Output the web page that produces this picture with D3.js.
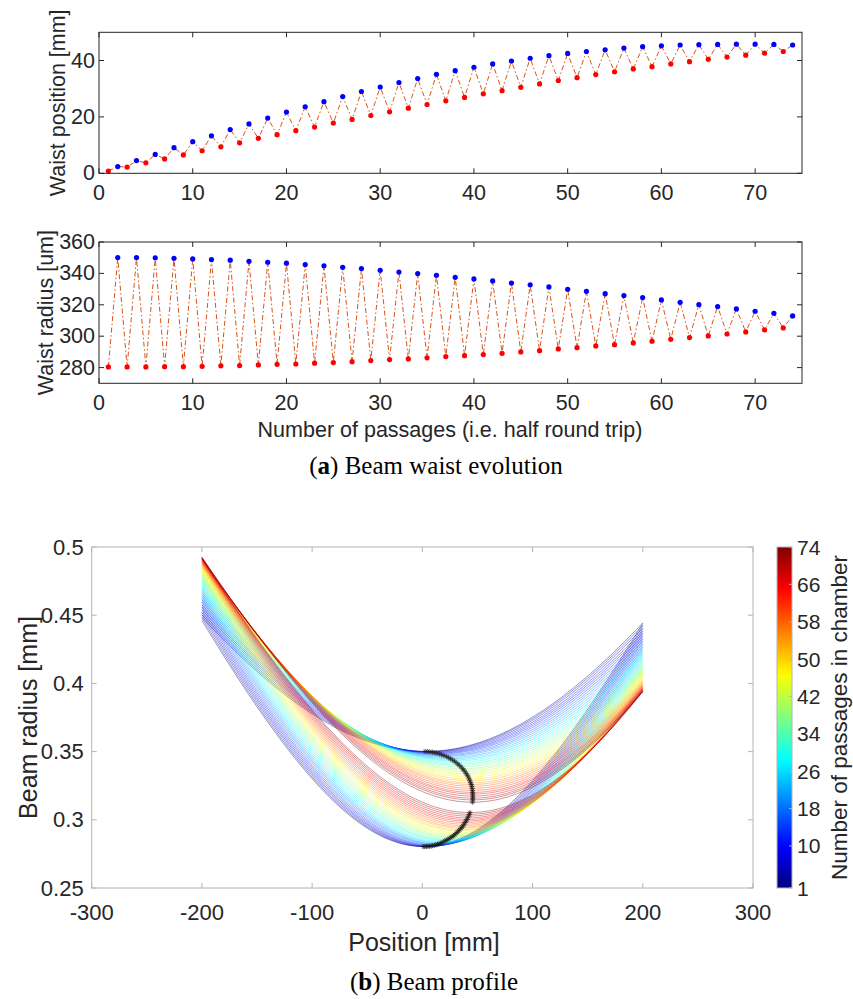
<!DOCTYPE html>
<html>
<head>
<meta charset="utf-8">
<script src="https://cdnjs.cloudflare.com/ajax/libs/d3/7.8.5/d3.min.js"></script>
<style>
  body { margin: 0; background: #fff; }
  svg { display: block; }
  text { font-family: "Liberation Sans", Arial, sans-serif; fill: #262626; }
  .caption { font-family: "Liberation Serif", "DejaVu Serif", serif; fill: #000; }
</style>
</head>
<body>
<svg id="chart" width="853" height="999"></svg>
<script>
// passage index (1..74), odd = red markers, even = blue markers
const passages = d3.range(1, 75);

// waist position [mm] (a) top
const waistPosition = [
  0.8, 2.4, 2.2, 4.5, 3.7, 6.7, 5.1, 9.1, 6.5, 11.2,
  8.0, 13.3, 9.4, 15.5, 10.8, 17.5, 12.4, 19.6, 13.7, 21.7,
  15.1, 23.6, 16.4, 25.4, 17.8, 27.2, 19.1, 29.0, 20.5, 30.6,
  21.8, 32.2, 23.1, 33.6, 24.4, 35.1, 25.7, 36.4, 26.9, 37.6,
  28.2, 38.8, 29.3, 39.8, 30.5, 40.8, 31.7, 41.7, 32.9, 42.5,
  33.9, 43.2, 35.0, 43.8, 36.0, 44.4, 37.0, 44.9, 37.8, 45.2,
  38.8, 45.5, 39.6, 45.6, 40.4, 45.7, 41.2, 45.8, 41.9, 45.8,
  42.6, 45.7, 43.2, 45.5
];

// waist radius [um] (a) bottom
const waistRadius = [
  280.4, 350.1, 280.4, 350.1, 280.4, 349.9, 280.6, 349.6, 280.6, 349.2,
  280.8, 348.8, 281.1, 348.4, 281.3, 347.7, 281.7, 347.1, 282.1, 346.5,
  282.3, 345.6, 282.8, 344.8, 283.2, 343.9, 283.8, 343.1, 284.5, 342.0,
  285.1, 340.9, 285.5, 339.9, 286.2, 338.8, 287.0, 337.5, 287.6, 336.5,
  288.3, 335.2, 289.1, 333.9, 290.0, 332.7, 290.8, 331.4, 291.9, 329.9,
  292.7, 328.6, 293.8, 327.1, 294.6, 325.9, 295.7, 324.6, 296.8, 323.1,
  298.0, 321.6, 299.1, 320.1, 300.2, 318.9, 301.4, 317.4, 302.7, 315.9,
  304.0, 314.6, 305.3, 312.9
];

// beam profile panel: gaussian beam w(z) around each waist
const wavelengthMm = 1.523e-3;          // effective wavelength giving the curve ends
const profileRange = [-200, 200];        // mm, extent of each profile

// tick labels
const passageTicks = [0, 10, 20, 30, 40, 50, 60, 70];
const positionTicks = [0, 20, 40];
const radiusTicks = [280, 300, 320, 340, 360];
const profileXTicks = [-300, -200, -100, 0, 100, 200, 300];
const profileYTicks = [0.25, 0.3, 0.35, 0.4, 0.45, 0.5];
const colorbarTicks = [1, 10, 18, 26, 34, 42, 50, 58, 66, 74];

const svg = d3.select('#chart');

function jet(t) {
  const c = v => Math.max(0, Math.min(1, v));
  const r = c(Math.min(4 * t - 1.5, -4 * t + 4.5));
  const g = c(Math.min(4 * t - 0.5, -4 * t + 3.5));
  const b = c(Math.min(4 * t + 0.5, -4 * t + 2.5));
  return d3.rgb(r * 255, g * 255, b * 255).toString();
}
const passageColor = n => jet((n - 1) / 73);

const fmt = d => String(+d.toFixed(2)).replace('\u2212', '-');

function drawFrame(g, x, y, opts) {
  const [x0, x1] = x.range(), [y0, y1] = y.range();
  const tl = 5;
  const frame = g.append('g');
  frame.append('rect')
    .attr('x', x0).attr('y', y1).attr('width', x1 - x0).attr('height', y0 - y1)
    .attr('fill', 'none').attr('stroke', opts.axisColor).attr('stroke-width', 1);
  opts.xTicks.forEach(t => {
    const px = x(t);
    frame.append('line').attr('x1', px).attr('x2', px).attr('y1', y0).attr('y2', y0 - tl)
      .attr('stroke', opts.axisColor);
    frame.append('line').attr('x1', px).attr('x2', px).attr('y1', y1).attr('y2', y1 + tl)
      .attr('stroke', opts.axisColor);
    g.append('text').attr('x', px).attr('y', y0 + opts.xLabelGap)
      .attr('text-anchor', 'middle').attr('dominant-baseline', 'central')
      .style('font-size', opts.tickSize + 'px').text(fmt(t));
  });
  opts.yTicks.forEach(t => {
    const py = y(t);
    frame.append('line').attr('x1', x0).attr('x2', x0 + tl).attr('y1', py).attr('y2', py)
      .attr('stroke', opts.axisColor);
    frame.append('line').attr('x1', x1).attr('x2', x1 - tl).attr('y1', py).attr('y2', py)
      .attr('stroke', opts.axisColor);
    g.append('text').attr('x', x0 - opts.yLabelGap).attr('y', py)
      .attr('text-anchor', 'end').attr('dominant-baseline', 'central')
      .style('font-size', opts.tickSize + 'px').text(fmt(t));
  });
  if (opts.yTitle) {
    g.append('text')
      .attr('transform', `translate(${opts.yTitleX},${(y0 + y1) / 2}) rotate(-90)`)
      .attr('text-anchor', 'middle').attr('dominant-baseline', 'central')
      .style('font-size', opts.titleSize + 'px').text(opts.yTitle);
  }
}

// ---- panel (a): waist position and waist radius ----
const xA = d3.scaleLinear().domain([0, 75]).range([99, 802]);
const yPos = d3.scaleLinear().domain([0, 50]).range([173.3, 32.3]);
const yRad = d3.scaleLinear().domain([270, 360]).range([383.3, 242]);

function waistPanel(values, y, ticks, title, titleX) {
  const g = svg.append('g');
  g.append('path')
    .datum(passages)
    .attr('fill', 'none')
    .attr('stroke', '#d95319')
    .attr('stroke-width', 1)
    .attr('stroke-dasharray', '5,2.5,1.5,2.5')
    .attr('d', d3.line().x(n => xA(n)).y(n => y(values[n - 1])));
  g.selectAll('circle')
    .data(passages)
    .enter().append('circle')
    .attr('cx', n => xA(n))
    .attr('cy', n => y(values[n - 1]))
    .attr('r', 2.6)
    .attr('fill', n => n % 2 ? '#ff0000' : '#0000ff');
  drawFrame(g, xA, y, {
    axisColor: '#262626', xTicks: passageTicks, yTicks: ticks,
    xLabelGap: 20, yLabelGap: 4, tickSize: 21.5, titleSize: 21.5,
    yTitle: title, yTitleX: titleX
  });
}
waistPanel(waistPosition, yPos, positionTicks, 'Waist position [mm]', 58);
waistPanel(waistRadius, yRad, radiusTicks, 'Waist radius [um]', 46);

svg.append('text')
  .attr('x', 450).attr('y', 430)
  .attr('text-anchor', 'middle').attr('dominant-baseline', 'central')
  .style('font-size', '21.5px')
  .text('Number of passages (i.e. half round trip)');

const capA = svg.append('text').attr('class', 'caption')
  .attr('x', 436).attr('y', 474).attr('text-anchor', 'middle')
  .style('font-size', '25px');
capA.append('tspan').text('(');
capA.append('tspan').attr('font-weight', 'bold').text('a');
capA.append('tspan').text(') Beam waist evolution');

// ---- panel (b): beam profile ----
const xB = d3.scaleLinear().domain([-300, 300]).range([91.7, 753]);
const yB = d3.scaleLinear().domain([0.25, 0.5]).range([888, 547]);
const gB = svg.append('g');

const zSamples = d3.range(profileRange[0], profileRange[1] + 0.01, 2);
const beam = passages.map(n => {
  const w0 = waistRadius[n - 1] / 1000;
  const z0 = waistPosition[n - 1];
  const zR = Math.PI * w0 * w0 / wavelengthMm;
  return zSamples.map(z => [z, w0 * Math.sqrt(1 + ((z - z0) / zR) ** 2)]);
});

const profileLine = d3.line().x(d => xB(d[0])).y(d => yB(d[1]));
gB.selectAll('path.profile')
  .data(passages)
  .enter().append('path')
  .attr('class', 'profile')
  .attr('fill', 'none')
  .attr('stroke', n => passageColor(n))
  .attr('stroke-width', 0.42)
  .attr('d', n => profileLine(beam[n - 1]));

// waist markers '*'
const star = 'M-2.6,0H2.6M0,-2.6V2.6M-1.9,-1.9L1.9,1.9M-1.9,1.9L1.9,-1.9';
gB.selectAll('path.waist')
  .data(passages)
  .enter().append('path')
  .attr('class', 'waist')
  .attr('transform', n => `translate(${xB(waistPosition[n - 1])},${yB(waistRadius[n - 1] / 1000)})`)
  .attr('d', star)
  .attr('stroke', '#1a1a1a')
  .attr('stroke-width', 0.6)
  .attr('fill', 'none');

drawFrame(gB, xB, yB, {
  axisColor: '#b4b4b4', xTicks: profileXTicks, yTicks: profileYTicks,
  xLabelGap: 24, yLabelGap: 8, tickSize: 22, titleSize: 25,
  yTitle: 'Beam radius [mm]', yTitleX: 28
});

svg.append('text')
  .attr('x', 424).attr('y', 942)
  .attr('text-anchor', 'middle').attr('dominant-baseline', 'central')
  .style('font-size', '25px')
  .text('Position [mm]');

const capB = svg.append('text').attr('class', 'caption')
  .attr('x', 434).attr('y', 990).attr('text-anchor', 'middle')
  .style('font-size', '25px');
capB.append('tspan').text('(');
capB.append('tspan').attr('font-weight', 'bold').text('b');
capB.append('tspan').text(') Beam profile');

// ---- colorbar ----
const cbX = 777, cbW = 15;
const yCb = d3.scaleLinear().domain([1, 74]).range([888, 547]);
const grad = svg.append('defs').append('linearGradient')
  .attr('id', 'jetGrad').attr('x1', 0).attr('y1', 1).attr('x2', 0).attr('y2', 0);
d3.range(0, 1.0001, 0.02).forEach(t => {
  grad.append('stop').attr('offset', t).attr('stop-color', jet(t));
});
svg.append('rect')
  .attr('x', cbX).attr('y', yCb(74)).attr('width', cbW).attr('height', yCb(1) - yCb(74))
  .attr('fill', 'url(#jetGrad)')
  .attr('stroke', '#b4b4b4').attr('stroke-width', 1);
colorbarTicks.forEach(t => {
  svg.append('line')
    .attr('x1', cbX + cbW).attr('x2', cbX + cbW - 3)
    .attr('y1', yCb(t)).attr('y2', yCb(t))
    .attr('stroke', '#b4b4b4');
  svg.append('text')
    .attr('x', cbX + cbW + 5).attr('y', yCb(t))
    .attr('dominant-baseline', 'central')
    .style('font-size', '21px')
    .text(t);
});
svg.append('text')
  .attr('transform', `translate(839,${(yCb(1) + yCb(74)) / 2}) rotate(-90)`)
  .attr('text-anchor', 'middle').attr('dominant-baseline', 'central')
  .style('font-size', '22.5px')
  .text('Number of passages in chamber');
</script>
</body>
</html>
